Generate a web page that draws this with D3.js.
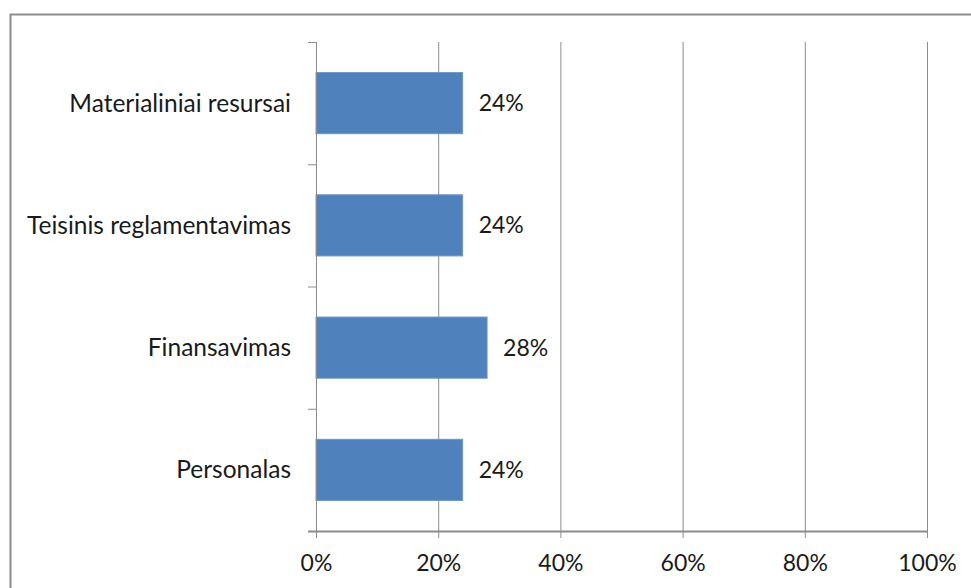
<!DOCTYPE html>
<html><head><meta charset="utf-8">
<script src="https://cdn.jsdelivr.net/npm/d3@7"></script>
<style>body{margin:0;background:#fff}svg{display:block}text{font-family:Lato,"Open Sans",sans-serif;fill:#1a1a1a}</style>
</head><body><svg id="c" width="971" height="588"></svg>
<script>
const categories = ["Materialiniai resursai","Teisinis reglamentavimas","Finansavimas","Personalas"];
const values = [24, 24, 28, 24];
const valueLabels = ["24%","24%","28%","24%"];
const xTicks = [0,20,40,60,80,100];
const xTickLabels = ["0%","20%","40%","60%","80%","100%"];

const svg = d3.select("#c");
const m = {l:316, r:927, t:42, b:531};
const x = d3.scaleLinear().domain([0,100]).range([m.l, m.r]);
const y = d3.scaleBand().domain(categories).range([m.t, m.b]).paddingInner(0.5).paddingOuter(0.25);

// outer border
svg.append("rect").attr("x",10.5).attr("y",14.5).attr("width",1000).attr("height",1000)
  .attr("fill","none").attr("stroke","#8c8c8c").attr("stroke-width",2);

// gridlines
svg.append("g").selectAll("line").data(xTicks.slice(1)).join("line")
  .attr("x1",d=>x(d)+0.5).attr("x2",d=>x(d)+0.5).attr("y1",m.t).attr("y2",m.b)
  .attr("stroke","#8c8c8c").attr("stroke-width",1);

// bars
svg.append("g").selectAll("rect").data(categories).join("rect")
  .attr("x",x(0)).attr("y",d=>y(d)).attr("width",(d,i)=>x(values[i])-x(0)).attr("height",y.bandwidth())
  .attr("fill","#4f81bd").attr("stroke","#6d96c8").attr("stroke-width",1);

// x axis
const xa = svg.append("g").attr("transform",`translate(0,${m.b})`)
  .call(d3.axisBottom(x).tickValues(xTicks).tickFormat((d,i)=>xTickLabels[i]).tickSize(7).tickSizeOuter(0).tickPadding(17));
xa.select(".domain").attr("stroke","#8c8c8c").attr("stroke-width",2).attr("d",`M${m.l-8},0.5H${m.r+0.5}`);
xa.selectAll(".tick line").attr("stroke","#8c8c8c");
xa.selectAll(".tick text").attr("font-size",23).attr("fill","#1a1a1a").style("font-family","Lato, sans-serif");

// y axis
const yEdges = [m.t, ...categories.map(c=>y(c)+y.bandwidth()+y.step()*0.25)];
const ya = svg.append("g");
ya.append("line").attr("x1",m.l+0.5).attr("x2",m.l+0.5).attr("y1",m.t).attr("y2",m.b+7).attr("stroke","#8c8c8c");
ya.selectAll("line.t").data(yEdges).join("line").attr("class","t")
  .attr("x1",m.l-8).attr("x2",m.l).attr("y1",d=>d+0.5).attr("y2",d=>d+0.5).attr("stroke","#8c8c8c");
ya.selectAll("text").data(categories).join("text")
  .attr("x",291).attr("y",d=>y(d)+y.bandwidth()/2).attr("dy","0.35em")
  .attr("text-anchor","end").attr("font-size",24.5).text(d=>d);

// value labels
svg.append("g").selectAll("text").data(categories).join("text")
  .attr("x",(d,i)=>x(values[i])+16).attr("y",d=>y(d)+y.bandwidth()/2).attr("dy","0.35em")
  .attr("font-size",23).text((d,i)=>valueLabels[i]);
</script></body></html>
